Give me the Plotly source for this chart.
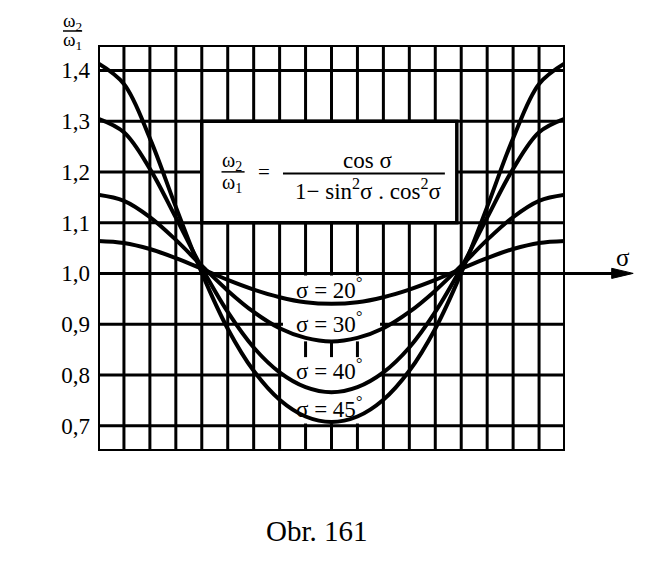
import plotly.graph_objects as go

# ---- data ----
phi = [0, 10, 20, 30, 40, 50, 60, 70, 80, 90, 100, 110, 120, 130, 140, 150, 160, 170, 180]
ratio_20 = [1.064, 1.060, 1.048, 1.030, 1.009, 0.987, 0.968, 0.953, 0.943, 0.940,
            0.943, 0.953, 0.968, 0.987, 1.009, 1.030, 1.048, 1.060, 1.064]
ratio_30 = [1.155, 1.143, 1.111, 1.066, 1.015, 0.966, 0.924, 0.892, 0.873, 0.866,
            0.873, 0.892, 0.924, 0.966, 1.015, 1.066, 1.111, 1.143, 1.155]
ratio_40 = [1.305, 1.278, 1.206, 1.110, 1.011, 0.924, 0.854, 0.805, 0.776, 0.766,
            0.776, 0.805, 0.854, 0.924, 1.011, 1.110, 1.206, 1.278, 1.305]
ratio_45 = [1.414, 1.373, 1.266, 1.131, 1.001, 0.891, 0.808, 0.751, 0.718, 0.707,
            0.718, 0.751, 0.808, 0.891, 1.001, 1.131, 1.266, 1.373, 1.414]
series = [("σ = 20", ratio_20), ("σ = 30", ratio_30), ("σ = 40", ratio_40), ("σ = 45", ratio_45)]
label_y = [0.971, 0.904, 0.810, 0.735]

y_ticks = [0.7, 0.8, 0.9, 1.0, 1.1, 1.2, 1.3, 1.4]
y_tick_labels = ["0,7", "0,8", "0,9", "1,0", "1,1", "1,2", "1,3", "1,4"]
x_grid = list(range(0, 181, 10))
x_range = [0, 180]
y_range = [0.65, 1.45]

FONT = "Liberation Serif"
BLACK = "black"

fig = go.Figure()
for name, vals in series:
    fig.add_trace(go.Scatter(x=phi, y=vals, mode="lines", name=name,
                             line=dict(color=BLACK, width=4, shape="spline", smoothing=1.0),
                             showlegend=False, hoverinfo="skip"))

shapes = []
def seg(x0, y0, x1, y1, w=3, xref="x", yref="y", layer="below"):
    shapes.append(dict(type="line", x0=x0, y0=y0, x1=x1, y1=y1, xref=xref, yref=yref,
                       line=dict(color=BLACK, width=w), layer=layer))

# grid
for xv in x_grid[1:-1]:
    seg(xv, y_range[0], xv, y_range[1])
for yv in y_ticks:
    seg(x_range[0], yv, x_range[1], yv)
# border
shapes.append(dict(type="rect", x0=x_range[0], x1=x_range[1], y0=y_range[0], y1=y_range[1],
                   xref="x", yref="y", line=dict(color=BLACK, width=4), layer="below"))
# white label area (curve labels)
shapes.append(dict(type="rect", x0=71.3, x1=108.7, y0=0.704, y1=0.996, xref="x", yref="y",
                   fillcolor="white", line=dict(width=0), layer="below"))
for xv in [80, 90, 100]:
    seg(xv, 0.835, xv, 0.866)
# formula box
shapes.append(dict(type="rect", x0=40, x1=138.3, y0=1.1, y1=1.3, xref="x", yref="y",
                   fillcolor="white", line=dict(color=BLACK, width=3.5), layer="below"))
# fraction bars in formula
seg(47.6, 1.2, 56.5, 1.2, w=1.5)
seg(71.3, 1.197, 133.7, 1.197, w=2)
# y-axis title fraction bar
seg(-0.075, 1.0345, -0.034, 1.0345, w=1.5, xref="paper", yref="paper")
# sigma axis arrow
seg(1.0, 1.0, 1.125, 1.0, w=3, xref="paper", yref="y")
shapes.append(dict(type="path", xref="paper", yref="y",
                   path="M 1.10,1.010 L 1.146,1.0 L 1.10,0.990 Z",
                   fillcolor=BLACK, line=dict(color=BLACK, width=1), layer="above"))

annotations = []
def txt(x, y, s, size, xref="x", yref="y"):
    annotations.append(dict(x=x, y=y, text=s, xref=xref, yref=yref, showarrow=False,
                            font=dict(family=FONT, size=size, color=BLACK),
                            xanchor="center", yanchor="middle"))

for (name, _), ly in zip(series, label_y):
    txt(89, ly, name + "<sup>°</sup>", 23)

txt(51.5, 1.221, "ω<sub>2</sub>", 20)
txt(51.5, 1.177, "ω<sub>1</sub>", 20)
txt(63.8, 1.2, "=", 21)
txt(104, 1.222, "cos σ", 23)
txt(104, 1.165, "1− sin<sup>2</sup>σ . cos<sup>2</sup>σ", 23)

txt(-0.055, 1.057, "ω<sub>2</sub>", 19, xref="paper", yref="paper")
txt(-0.055, 1.010, "ω<sub>1</sub>", 19, xref="paper", yref="paper")
txt(1.124, 1.032, "σ", 25, xref="paper", yref="y")
txt(0.469, -0.197, "Obr. 161", 29, xref="paper", yref="paper")

# the page body has an 8 px default margin, so the figure is 8 px smaller
fig.update_layout(
    width=644, height=554,
    margin=dict(l=90, r=87, t=37, b=111),
    paper_bgcolor="white", plot_bgcolor="white",
    shapes=shapes, annotations=annotations,
    xaxis=dict(range=x_range, showgrid=False, zeroline=False, showline=False,
               showticklabels=False, ticks=""),
    yaxis=dict(range=y_range, showgrid=False, zeroline=False, showline=False,
               tickvals=y_ticks, ticktext=y_tick_labels, ticks="", ticklabelstandoff=7,
               tickfont=dict(family=FONT, size=23, color=BLACK)),
)

fig.write_html("out.html")
